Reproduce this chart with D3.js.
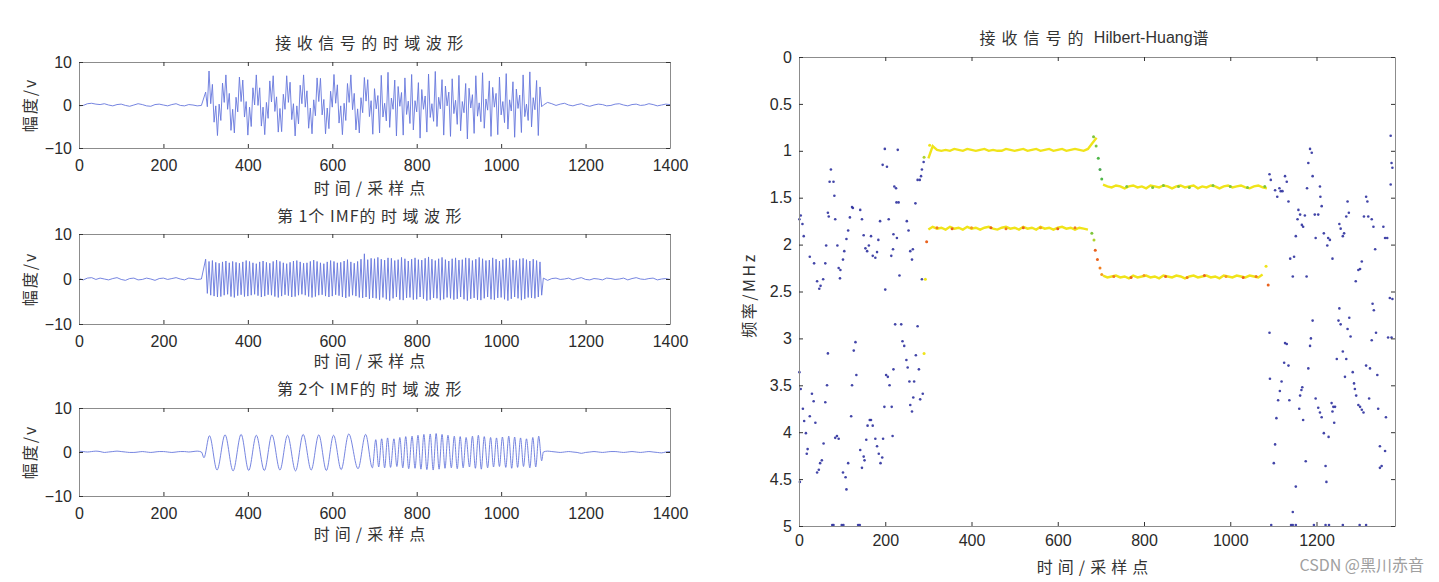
<!DOCTYPE html>
<html><head><meta charset="utf-8">
<script src="https://cdn.jsdelivr.net/npm/d3@7"></script>
<style>
body{margin:0;background:#fff;}
svg{display:block;}
.cjk{font-family:"Noto Sans CJK SC","Noto Sans",sans-serif;font-size:16px;fill:#333;}
.domain{stroke:#8c8c8c;}
.tick line{stroke:#333;}
</style></head><body>
<svg id="c" width="1439" height="582"></svg>
<script>
// ---------------- DATA ----------------
const leftXTicks = [0,200,400,600,800,1000,1200,1400];
const leftYTicks = [-10,0,10];
const rightXTicks = [0,200,400,600,800,1000,1200];
const rightYTicks = [0,0.5,1,1.5,2,2.5,3,3.5,4,4.5,5];
// panel titles split into [tight part, spaced part]
const panelTitles = [["","接收信号的时域波形"],["第 1个 IMF的 ","时域波形"],["第 2个 IMF的 ","时域波形"]];
const leftYLabel = "幅度/v";
const xLabel = "时间/采样点";
const rightTitleA = "接收信号的", rightTitleB = " Hilbert-Huang", rightTitleC = "谱";
const rightYLabel = "频率/MHz";
const watermark = "CSDN @黑川赤音";

// received signal: samples 0..290 (step 10), 300..1096 (step 4), 1100..1400 (step 10)
const sig1Pre = [-0.2,-0.1,0.3,0.4,0.2,0.1,0.3,0.0,-0.2,0.1,0.2,-0.1,-0.3,0.0,0.3,0.1,-0.2,-0.3,0.1,0.2,0.0,-0.2,0.1,0.3,-0.1,-0.2,0.1,0.0,-0.2,-0.1];
const sig1Active = [
3.0,-0.4,7.9,0.3,4.8,-4.0,-0.2,-7.1,0.2,-3.6,5.1,0.6,7.0,-1.0,2.7,-5.9,-1.0,-6.5,1.8,-1.6,6.5,0.8,5.8,-2.8,0.8,-7.0,-0.5,-5.0,4.0,0.0,7.0,-0.1,4.0,-4.9,-0.5,-6.9,0.6,
-3.1,5.6,0.7,6.8,-1.5,1.9,-6.3,-0.8,-6.2,2.5,-1.0,6.8,0.6,5.3,-3.4,0.3,-7.2,-0.2,-4.4,4.6,0.3,7.0,-0.5,3.3,-5.4,-0.7,-6.7,1.2,-2.5,6.3,0.8,6.2,-2.3,1.3,-6.7,-0.7,-5.5,
3.2,-0.5,7.1,0.4,4.7,-4.2,-0.2,-6.9,0.4,-3.6,5.0,0.6,7.0,-1.1,2.7,-5.8,-0.9,-6.5,1.7,-1.8,6.4,0.9,5.9,-2.7,1.0,-6.8,
3.8,-0.9,2.2,-6.5,6.9,-2.8,0.4,-3.7,7.6,-5.2,1.6,-1.0,5.8,-7.2,
4.3,-0.3,2.9,-7.0,6.3,-2.2,0.9,-4.3,7.1,-5.8,1.0,-1.6,5.2,-7.7,
3.6,-1.0,2.1,-6.3,7.2,-2.9,0.3,-3.8,7.8,-5.0,1.8,-0.9,5.9,-7.0,
4.4,-0.2,3.0,-7.3,6.1,-2.0,1.1,-4.5,6.9,-6.0,0.8,-1.8,5.0,-7.9,
3.9,-0.7,2.4,-6.6,6.8,-2.6,0.5,-3.9,7.5,-5.4,1.4,-1.2,5.6,-7.3,
4.1,-0.5,2.7,-6.9,6.5,-2.3,0.8,-4.1,7.3,-5.6,1.2,-1.4,5.4,-7.5,
3.7,-0.8,2.3,-6.4,7.0,-2.7,0.2,-3.6,7.7,-5.1,1.7,-1.1,5.7,-7.1,
4.2,-0.4];
const sig1Post = [0.0,0.6,0.3,-0.1,0.2,0.4,0.0,-0.2,0.1,0.3,-0.1,-0.3,0.0,0.2,0.1,-0.2,-0.1,0.2,0.3,0.0,-0.2,0.1,0.2,-0.1,0.0,0.3,0.1,-0.2,0.0,0.2,0.1];

// IMF 1: same sampling grid
const imf1Pre = [0.1,-0.2,0.2,0.3,-0.1,0.2,0.0,-0.2,0.1,0.3,-0.1,-0.3,0.1,0.2,-0.2,-0.1,0.2,0.0,-0.3,0.1,0.2,-0.1,0.1,0.3,0.0,-0.2,0.2,0.1,-0.1,0.0];
const imf1Active = [
4.4,-3.2,3.9,-3.6,4.1,-3.8,3.7,-4.0,3.5,-3.9,3.8,-3.6,4.0,-3.4,3.6,-3.9,3.9,-4.1,3.7,-3.7,
3.5,-3.5,3.8,-3.9,4.1,-3.8,3.9,-3.6,3.6,-3.4,3.4,-3.7,3.8,-4.0,4.0,-3.8,3.7,-3.5,3.5,-3.6,
3.9,-3.9,4.2,-4.1,3.9,-3.8,3.6,-3.5,3.4,-3.7,3.7,-4.0,4.0,-3.9,4.1,-3.6,3.8,-3.4,3.5,-3.6,
3.6,-3.9,3.9,-4.1,4.2,-3.9,3.9,-3.6,3.6,-3.5,3.4,-3.8,3.8,-4.0,4.1,-3.8,3.9,-3.5,3.6,-3.7,
3.7,-4.0,4.0,-4.2,4.3,-3.9,3.8,-3.6,3.5,-3.8,3.9,-4.1,4.4,-4.2,5.6,-4.0,4.3,-4.4,4.6,-4.2,
4.5,-4.3,4.8,-4.6,4.4,-4.1,4.2,-4.5,4.7,-4.8,4.6,-4.3,4.1,-4.0,4.3,-4.6,4.8,-4.7,4.5,-4.2,
4.0,-4.1,4.4,-4.6,4.7,-4.5,4.3,-4.0,4.2,-4.4,4.6,-4.8,4.9,-4.6,4.4,-4.2,4.1,-4.3,4.5,-4.7,
4.8,-4.5,4.3,-4.1,4.0,-4.3,4.5,-4.6,4.7,-4.4,4.2,-4.0,4.3,-4.5,4.7,-4.8,4.6,-4.4,4.1,-4.2,
4.4,-4.6,4.8,-4.7,4.5,-4.3,4.1,-4.0,4.2,-4.5,4.7,-4.6,4.4,-4.2,4.0,-4.1,4.3,-4.5,4.6,-4.8,
4.7,-4.4,4.2,-4.0,4.1,-4.3,4.5,-4.7,4.6,-4.4,4.3,-4.1,4.0,-4.2,4.4,-4.3,4.1,-4.0,3.8,-3.6];
const imf1Post = [0.2,-0.3,0.1,0.2,-0.1,0.0,0.2,-0.2,0.1,0.3,-0.1,-0.2,0.1,0.0,-0.2,0.2,0.1,-0.1,0.0,0.2,-0.2,0.1,0.3,0.0,-0.1,0.1,0.2,-0.2,0.0,0.1,-0.1];

// IMF 2: noise grid + extrema (sample, value) of the oscillating part
const imf2Pre = [0.2,0.1,0.0,0.1,0.2,0.1,-0.1,0.0,0.1,0.2,0.1,0.0,-0.1,-0.1,0.0,0.1,0.0,-0.1,0.0,0.1,0.1,0.0,-0.1,0.0,0.1,0.1,0.0,0.1,0.2,0.0];
const imf2ExtX = [296,309,327,346,365,384,402,420,439,457,476,494,513,531,550,568,586,603,621,639,661,679,695,
703,710,717,724,731,738,746,753,760,767,774,781,789,796,803,810,817,824,832,839,846,853,860,867,874,882,889,896,903,910,917,925,932,939,946,953,960,968,975,982,989,996,1003,1011,1018,1025,1032,1039,1046,1053,1060,1068,1075,1082,1089,1096];
const imf2ExtY = [-1.3,3.7,-4.1,3.9,-4.3,4.0,-4.2,3.8,-4.2,3.9,-4.1,3.8,-4.3,4.0,-4.1,3.9,-4.2,3.8,-4.0,4.1,-3.8,4.0,-3.6,
2.8,-3.4,3.0,-3.6,3.2,-3.5,3.0,-3.3,3.3,-3.6,3.5,-3.8,3.6,-3.7,3.8,-3.9,4.0,-4.0,4.1,-4.1,4.2,-3.9,4.0,-3.7,3.8,-3.6,3.6,-3.8,3.5,-3.6,3.3,-3.4,3.6,-3.7,3.8,-3.9,3.5,-3.6,3.3,-3.4,3.2,-3.3,3.4,-3.5,3.6,-3.7,3.4,-3.5,3.2,-3.3,3.0,-3.6,3.3,-3.4,3.6,-2.0];
const imf2Post = [0.0,0.2,0.1,0.0,-0.1,0.0,0.1,0.0,-0.1,-0.3,-0.1,0.0,0.1,0.0,-0.1,0.0,0.1,0.1,0.0,-0.1,0.0,0.1,0.0,-0.1,0.0,0.1,0.0,-0.1,-0.2,0.0,0.1];

// Hilbert-Huang spectrum: ridge lines (MHz) on a 10-sample grid
const hhtUpperStart = 300, hhtMidStart = 705, hhtLow1Start = 300, hhtLow2Start = 705, hhtStep = 10;
const hhtUpper = [1.08,0.95,0.99,1.0,0.99,1.0,0.98,0.99,1.0,0.98,0.99,1.0,0.99,0.98,1.0,0.99,1.0,1.0,0.98,0.99,1.0,0.99,0.98,1.0,0.99,0.98,1.0,0.99,0.98,1.0,0.99,0.98,1.0,0.99,0.98,0.99,1.0,0.98,0.92,0.86];
const hhtMid = [1.36,1.38,1.39,1.37,1.38,1.40,1.38,1.37,1.39,1.38,1.40,1.37,1.38,1.39,1.37,1.38,1.40,1.38,1.37,1.39,1.38,1.37,1.40,1.38,1.39,1.37,1.38,1.40,1.38,1.37,1.39,1.38,1.37,1.39,1.40,1.38,1.37,1.39,1.40];
const hhtLow1 = [1.84,1.81,1.83,1.82,1.84,1.81,1.83,1.82,1.84,1.81,1.83,1.82,1.84,1.82,1.81,1.83,1.84,1.82,1.81,1.83,1.82,1.84,1.81,1.83,1.82,1.84,1.81,1.83,1.82,1.84,1.82,1.81,1.83,1.82,1.84,1.82,1.83,1.84];
const hhtLow2 = [2.33,2.35,2.34,2.33,2.35,2.34,2.36,2.33,2.35,2.34,2.33,2.35,2.34,2.36,2.33,2.34,2.35,2.33,2.34,2.36,2.34,2.33,2.35,2.34,2.33,2.35,2.34,2.36,2.33,2.34,2.35,2.33,2.34,2.35,2.33,2.34,2.35,2.32];
// coloured points: [sample, MHz, energy 0..1]
const hhtAccent = [
[290,3.16,0.62],[293,2.37,0.62],[290,1.07,0.55],[303,0.94,0.62],[296,1.97,0.9],
[320,1.82,0.85],[355,1.83,0.9],[400,1.82,0.8],[445,1.82,0.9],[480,1.83,0.85],[520,1.82,0.9],[560,1.82,0.8],[600,1.83,0.9],[640,1.82,0.85],
[679,1.88,0.5],[684,1.95,0.55],[687,2.06,0.9],[692,2.16,0.9],[698,2.25,0.85],[702,2.32,0.8],
[683,0.85,0.5],[689,0.95,0.5],[694,1.08,0.45],[698,1.2,0.4],[702,1.3,0.45],
[760,1.38,0.5],[820,1.39,0.5],[845,1.37,0.5],[880,1.38,0.5],[905,1.39,0.5],[960,1.37,0.5],[1000,1.38,0.5],[1040,1.39,0.5],[1080,1.38,0.5],
[730,2.34,0.85],[770,2.35,0.9],[800,2.33,0.8],[850,2.34,0.9],[900,2.35,0.85],[940,2.33,0.9],[990,2.34,0.8],[1030,2.35,0.9],[1060,2.34,0.85],
[1083,2.23,0.62],[1088,2.43,0.9]];
// low-energy scattered points: [sample, MHz]
const hhtNoisePts = [
[1,1.73],[4,1.69],[8,1.78],[11,1.91],[25,2.13],[35,2.2],[42,2.39],[47,2.47],[50,2.44],[56,2.37],[61,2.2],[63,2.01],[67,1.66],[69,1.70],[74,1.2],[71,1.33],[80,1.33],[82,1.48],[84,1.73],[89,2.01],[92,2.25],[96,2.27],[95,2.36],[102,2.16],[105,2.07],[110,1.94],[114,1.85],[118,1.71],[123,1.6],[125,1.61],[142,1.63],[146,1.73],[150,1.9],[154,2.04],[158,2.07],[162,2.01],[167,1.91],[171,2.12],[177,2.14],[181,2.08],[184,1.95],[188,1.75],[194,1.15],[199,0.98],[204,1.17],[208,1.73],[214,2.12],[218,2.05],[219,1.89],[221,1.38],[225,1.40],[226,1.55],[231,1.55],[227,1.93],[229,0.99],[233,2.33],[250,1.75],[254,1.85],[258,2.07],[262,2.16],[264,2.05],[270,1.56],[275,1.31],[280,1.31],[283,1.27],[285,2.37],[285,1.2],[289,1.12],
[200,2.48],[1,3.36],[4,3.54],[9,3.75],[12,3.88],[16,4.01],[20,4.18],[18,4.23],[2,4.53],[25,3.83],[30,3.59],[34,3.67],[38,3.90],[42,4.43],[46,4.4],[49,4.33],[53,4.3],[57,4.12],[61,3.68],[65,3.5],[67,3.16],[84,4.06],[88,4.04],[92,4.07],[102,4.43],[108,4.48],[110,4.61],[114,4.33],[121,3.83],[123,3.5],[127,3.13],[131,3.04],[133,3.39],[142,4.19],[146,4.38],[150,4.26],[152,4.3],[156,4.08],[159,3.93],[164,3.87],[167,3.87],[171,3.93],[177,4.07],[181,4.15],[185,4.23],[189,4.33],[193,4.27],[195,4.07],[198,3.73],[202,3.39],[206,3.41],[210,3.5],[215,3.73],[217,4.04],[219,3.33],[223,2.85],[237,2.85],[240,3.03],[244,3.08],[249,3.23],[252,3.31],[256,3.46],[258,3.71],[262,3.78],[265,3.63],[267,3.46],[271,3.18],[275,2.87],[278,3.33],[281,3.65],[287,3.59],
[77,4.99],[80,4.99],[99,4.99],[103,4.99],[137,4.99],[141,4.99],
[1091,1.25],[1094,1.31],[1104,1.42],[1109,1.49],[1114,1.40],[1117,1.43],[1121,1.43],[1127,1.27],[1131,1.33],[1135,1.54],[1139,2.15],[1148,2.13],[1145,2.34],[1152,1.91],[1158,1.63],[1162,1.68],[1156,1.73],[1166,1.79],[1169,1.81],[1173,1.69],[1178,1.40],[1181,1.13],[1185,0.98],[1189,1.02],[1191,1.27],[1177,2.34],[1196,1.68],[1204,1.68],[1208,1.38],[1209,1.49],[1212,1.59],[1198,1.93],[1217,1.88],[1227,1.93],[1231,1.95],[1225,2.01],[1237,2.15],[1253,1.78],[1256,1.83],[1261,1.91],[1264,1.88],[1269,1.70],[1272,1.54],[1275,1.66],[1291,2.39],[1297,2.27],[1301,2.26],[1305,2.18],[1310,1.70],[1315,1.49],[1318,1.54],[1320,1.70],[1328,1.73],[1332,1.81],[1336,2.05],[1355,1.81],[1359,1.93],[1364,1.93],[1372,1.36],[1374,1.13],[1376,1.18],[1372,0.84],[1370,2.57],
[1376,2.58],[1374,2.99],[1366,2.99],[1330,2.63],[1333,2.70],[1338,2.94],[1328,3.02],[1315,3.29],[1324,3.32],[1341,3.39],[1322,3.64],[1343,3.75],[1361,3.84],[1347,4.15],[1359,4.20],[1351,4.36],[1347,4.38],[1253,2.68],[1251,2.81],[1256,2.85],[1276,2.78],[1272,2.90],[1279,2.98],[1261,3.14],[1247,3.22],[1269,3.22],[1266,3.41],[1284,3.36],[1287,3.48],[1289,3.54],[1292,3.61],[1297,3.71],[1301,3.73],[1305,3.76],[1309,3.79],[1239,3.73],[1235,3.69],[1237,3.78],[1243,3.73],[1241,3.90],[1228,4.05],[1221,4.36],[1223,4.53],[1217,4.01],[1212,3.84],[1204,3.74],[1208,3.79],[1198,3.64],[1181,3.32],[1185,3.08],[1187,3.00],[1191,2.81],[1169,3.87],[1175,4.31],[1162,3.61],[1160,3.75],[1165,3.55],[1167,3.52],[1137,3.66],[1135,3.29],[1127,3.05],[1131,3.06],[1125,3.26],[1119,3.46],[1115,3.56],[1111,3.66],[1107,3.85],[1091,2.94],[1092,3.43],[1104,4.13],[1101,4.33],[1152,4.58],[1145,4.85],
[1095,4.99],[1141,4.99],[1145,4.99],[1152,4.99],[1194,4.99],[1221,4.99],[1229,4.99],[1261,4.99],[1300,4.99],[1315,4.99]];

// ---------------- DRAWING ----------------
const svg = d3.select("#c");
const numFont = "'Liberation Sans', Arial, sans-serif";
const seg = (vals, x0, step) => vals.map((v,i)=>[x0+i*step, v]);

const sig1Pts = [...seg(sig1Pre,0,10), ...seg(sig1Active,300,4), ...seg(sig1Post,1100,10)];
const imf1Pts = [...seg(imf1Pre,0,10), ...seg(imf1Active,300,4), ...seg(imf1Post,1100,10)];
const imf2Pts = [...seg(imf2Pre,0,10), ...imf2ExtX.map((x,i)=>[x, imf2ExtY[i]]), ...seg(imf2Post,1100,10)];

const lx = d3.scaleLinear().domain([0,1400]).range([79,670]);
const panels = [
  {pts:sig1Pts, curve:d3.curveLinear, top:62, bottom:148, titleY:42, xtY:187},
  {pts:imf1Pts, curve:d3.curveLinear, top:234, bottom:324, titleY:215, xtY:360},
  {pts:imf2Pts, curve:d3.curveMonotoneX, top:408, bottom:496, titleY:388, xtY:533}
];

function styleAxis(g){
  g.attr("font-size",16).attr("font-family",numFont).attr("color","#2a2a2a");
  g.select(".domain").attr("stroke","#8c8c8c");
}

panels.forEach((p,idx)=>{
  const y = d3.scaleLinear().domain([-10,10]).range([p.bottom,p.top]);
  const g = svg.append("g");
  g.append("path").datum(p.pts)
    .attr("d", d3.line().x(d=>lx(d[0])).y(d=>y(d[1])).curve(p.curve))
    .attr("fill","none").attr("stroke","#6677dd").attr("stroke-width",0.9);
  g.append("g").attr("transform",`translate(0,${p.bottom})`)
    .call(d3.axisBottom(lx).tickValues(leftXTicks).tickSize(-4).tickSizeOuter(0).tickPadding(12).tickFormat(d3.format("d")))
    .call(styleAxis);
  g.append("g").attr("transform",`translate(0,${p.top})`)
    .call(d3.axisTop(lx).tickValues(leftXTicks).tickSize(-4).tickSizeOuter(0).tickFormat(""))
    .call(styleAxis);
  g.append("g").attr("transform",`translate(${lx(0)},0)`)
    .call(d3.axisLeft(y).tickValues(leftYTicks).tickSize(-4).tickSizeOuter(0).tickPadding(7))
    .call(styleAxis);
  g.append("g").attr("transform",`translate(${lx(1400)},0)`)
    .call(d3.axisRight(y).tickValues(leftYTicks).tickSize(-4).tickSizeOuter(0).tickFormat(""))
    .call(styleAxis);
  const t = g.append("text").attr("class","cjk").attr("x",372).attr("y",p.titleY)
    .attr("text-anchor","middle").attr("dominant-baseline","central");
  if (panelTitles[idx][0]) t.append("tspan").attr("letter-spacing",1).text(panelTitles[idx][0]);
  t.append("tspan").attr("letter-spacing",5.5).text(panelTitles[idx][1]);
  g.append("text").attr("class","cjk").attr("x",372).attr("y",p.xtY)
    .attr("text-anchor","middle").attr("dominant-baseline","central")
    .attr("letter-spacing",5).text(xLabel);
  g.append("text").attr("class","cjk")
    .attr("transform",`translate(29,${(p.top+p.bottom)/2}) rotate(-90)`)
    .attr("text-anchor","middle").attr("dominant-baseline","central")
    .attr("letter-spacing",2).text(leftYLabel);
});

// ---- right: Hilbert-Huang spectrum ----
const rx = d3.scaleLinear().domain([0,1382]).range([799,1395]);
const ry = d3.scaleLinear().domain([0,5]).range([57,526]);
const energyColor = d3.scaleLinear().domain([0,0.45,0.62,0.8,1])
  .range(["#2b2ba3","#4fb848","#f0e41a","#f59a1e","#df2a1c"]);
const rg = svg.append("g");

const lineGen = d3.line().x(d=>rx(d[0])).y(d=>ry(d[1]));
[[hhtUpper,hhtUpperStart],[hhtMid,hhtMidStart],[hhtLow1,hhtLow1Start],[hhtLow2,hhtLow2Start]].forEach(([vals,x0])=>{
  rg.append("path").datum(seg(vals,x0,hhtStep))
    .attr("d",lineGen).attr("fill","none")
    .attr("stroke",energyColor(0.62)).attr("stroke-width",2.4);
});
rg.selectAll("circle.n").data(hhtNoisePts).enter().append("circle")
  .attr("class","n").attr("cx",d=>rx(d[0])).attr("cy",d=>ry(d[1])).attr("r",1.3)
  .attr("fill",energyColor(0.02)).attr("opacity",0.9);
rg.selectAll("circle.a").data(hhtAccent).enter().append("circle")
  .attr("class","a").attr("cx",d=>rx(d[0])).attr("cy",d=>ry(d[1])).attr("r",1.5)
  .attr("fill",d=>energyColor(d[2]));

rg.append("g").attr("transform",`translate(0,${ry(5)})`)
  .call(d3.axisBottom(rx).tickValues(rightXTicks).tickSize(-4).tickSizeOuter(0).tickPadding(9).tickFormat(d3.format("d")))
  .call(styleAxis);
rg.append("g").attr("transform",`translate(0,${ry(0)})`)
  .call(d3.axisTop(rx).tickValues(rightXTicks).tickSize(-4).tickSizeOuter(0).tickFormat(""))
  .call(styleAxis);
rg.append("g").attr("transform",`translate(${rx(0)},0)`)
  .call(d3.axisLeft(ry).tickValues(rightYTicks).tickSize(-4).tickSizeOuter(0).tickPadding(7).tickFormat(d3.format("~g")))
  .call(styleAxis);
rg.append("g").attr("transform",`translate(${rx(1382)},0)`)
  .call(d3.axisRight(ry).tickValues(rightYTicks).tickSize(-4).tickSizeOuter(0).tickFormat(""))
  .call(styleAxis);

const rt = rg.append("text").attr("class","cjk").attr("x",1094).attr("y",37)
  .attr("text-anchor","middle").attr("dominant-baseline","central");
rt.append("tspan").attr("letter-spacing",6).text(rightTitleA);
rt.append("tspan").attr("font-family",numFont).text(rightTitleB);
rt.append("tspan").text(rightTitleC);
rg.append("text").attr("class","cjk").attr("x",1095).attr("y",566)
  .attr("text-anchor","middle").attr("dominant-baseline","central")
  .attr("letter-spacing",5).text(xLabel);
rg.append("text").attr("class","cjk")
  .attr("transform",`translate(748,295) rotate(-90)`)
  .attr("text-anchor","middle").attr("dominant-baseline","central")
  .attr("letter-spacing",2.5).text(rightYLabel);

svg.append("text").attr("x",1424).attr("y",564).attr("text-anchor","end")
  .attr("dominant-baseline","central")
  .attr("font-family","'Noto Sans CJK SC','Noto Sans',sans-serif").attr("font-size",16)
  .attr("fill","#a0a0a0").text(watermark);
</script>
</body></html>
